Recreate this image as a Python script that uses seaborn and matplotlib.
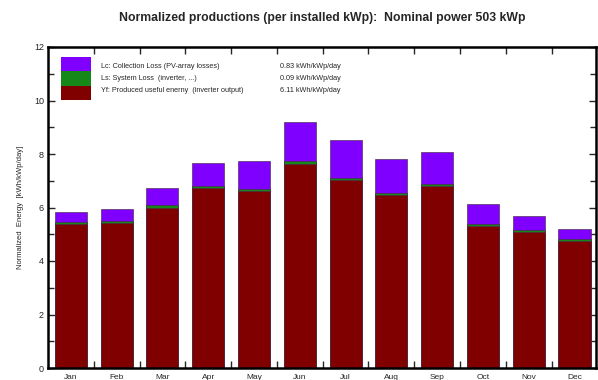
import matplotlib
matplotlib.use("Agg")
import matplotlib.pyplot as plt
from matplotlib.patches import Rectangle
from matplotlib.ticker import MultipleLocator, FixedLocator
import seaborn as sns
import pandas as pd
import numpy as np

# monthly normalized values, kWh/kWp/day
months = ["Jan", "Feb", "Mar", "Apr", "May", "Jun",
          "Jul", "Aug", "Sep", "Oct", "Nov", "Dec"]
yf = [5.38, 5.42, 6.00, 6.72, 6.62, 7.64, 7.01, 6.45, 6.80, 5.30, 5.08, 4.73]
ls = [0.09, 0.09, 0.09, 0.09, 0.09, 0.09, 0.09, 0.09, 0.09, 0.09, 0.09, 0.09]
lc = [0.36, 0.42, 0.63, 0.84, 1.03, 1.45, 1.44, 1.29, 1.19, 0.74, 0.50, 0.36]

legend_labels = ["Lc: Collection Loss (PV-array losses)",
                 "Ls: System Loss  (inverter, ...)",
                 "Yf: Produced useful enerny  (inverter output)"]
legend_values = ["0.83 kWh/kWp/day", "0.09 kWh/kWp/day", "6.11 kWh/kWp/day"]

c_lc = "#8000ff"
c_ls = "#16881a"
c_yf = "#800000"

df = pd.DataFrame({"month": months, "yf": yf, "ls": ls, "lc": lc})
df["yf_ls"] = df["yf"] + df["ls"]
df["total"] = df["yf_ls"] + df["lc"]

sns.set_style("white")
plt.rcParams["font.family"] = ["Liberation Sans", "DejaVu Sans"]

fig = plt.figure(figsize=(5.98, 3.8), dpi=100)
ax = fig.add_axes([48 / 598, 12 / 380, 548 / 598, 321 / 380])

# stacked look: draw totals first, then cover with lower parts
for col, color in [("total", c_lc), ("yf_ls", c_ls), ("yf", c_yf)]:
    sns.barplot(data=df, x="month", y=col, color=color, width=0.70,
                edgecolor="#4a2a4a", linewidth=0.45, saturation=1, ax=ax)

ax.set_xlim(-0.5, 11.47)
ax.set_ylim(0, 12)
ax.set_xlabel("")
ax.set_ylabel("Normalized  Energy  [kWh/kWp/day]", fontsize=5.5, labelpad=7)

ax.yaxis.set_major_locator(MultipleLocator(2))
ax.yaxis.set_minor_locator(MultipleLocator(1))
ax.xaxis.set_minor_locator(FixedLocator(np.arange(0.5, 11, 1)))
ax.tick_params(axis="y", which="both", direction="in", left=True, right=True,
               labelsize=6.5, width=1, pad=3)
ax.tick_params(axis="y", which="major", length=5)
ax.tick_params(axis="y", which="minor", length=4)
ax.tick_params(axis="x", which="major", length=0, labelsize=6, pad=4)
ax.tick_params(axis="x", which="minor", direction="in", top=True, bottom=True,
               length=5, width=1)
for s in ax.spines.values():
    s.set_linewidth(1.8)
    s.set_color("black")

fig.suptitle("Normalized productions (per installed kWp):  Nominal power 503 kWp",
             fontsize=8.8, fontweight="bold", x=322 / 598, y=1 - 18 / 380, va="center")

# legend block, top-left inside the frame
colors = [c_lc, c_ls, c_yf]
for i in range(3):
    y0 = 1 - (57 + 14.3 * (i + 1)) / 380
    fig.add_artist(Rectangle((61 / 598, y0), 30 / 598, 14.3 / 380,
                             transform=fig.transFigure, facecolor=colors[i],
                             edgecolor="none"))
    yc = 1 - (66.5 + 12 * i) / 380
    fig.text(101 / 598, yc, legend_labels[i], fontsize=5.2, va="center")
    fig.text(280 / 598, yc, legend_values[i], fontsize=5.2, va="center")

fig.savefig("out.png", dpi=100)
